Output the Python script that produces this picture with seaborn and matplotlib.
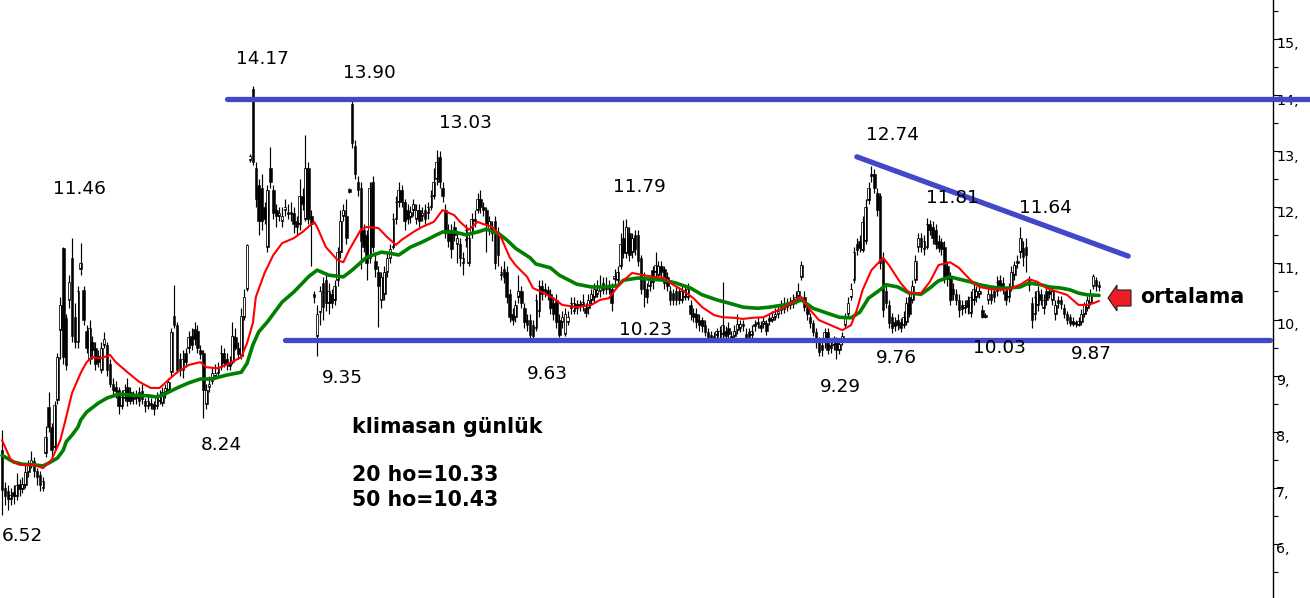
import numpy as np
import pandas as pd
import seaborn as sns
import matplotlib.pyplot as plt
import matplotlib.transforms as mtransforms
from matplotlib.patches import FancyArrow
from matplotlib.ticker import MultipleLocator, FuncFormatter

sns.set_theme(style="white")
plt.rcParams['font.family'] = ['DejaVu Sans']
plt.rcParams['text.color'] = 'black'

# ---- daily candles (klimasan)
opens = [
    7.67, 7.00, 6.95, 6.80, 6.92, 6.86, 7.07, 6.98, 7.05, 7.28,
    7.40, 7.48, 7.30, 7.22, 7.00, 7.62, 8.44, 8.08, 7.72, 8.57,
    9.81, 11.27, 10.03, 10.35, 11.10, 10.05, 9.60, 10.90, 10.52, 9.80,
    9.30, 9.60, 9.50, 9.35, 9.10, 9.55, 9.55, 9.20, 8.85, 8.80,
    8.75, 8.45, 8.60, 8.80, 8.70, 8.58, 8.60, 8.70, 8.72, 8.55,
    8.45, 8.52, 8.50, 8.45, 8.55, 8.51, 8.70, 8.74, 9.06, 10.07,
    9.90, 9.30, 9.10, 9.40, 9.50, 9.70, 9.83, 9.80, 9.46, 9.40,
    8.50, 8.80, 8.90, 9.00, 9.05, 9.15, 9.40, 9.30, 9.25, 9.25,
    9.68, 9.50, 9.35, 10.05, 10.55, 12.85, 14.10, 12.70, 12.40, 12.35,
    12.00, 11.30, 12.70, 12.30, 11.95, 11.85, 11.75, 11.95, 11.88, 11.88,
    11.90, 11.75, 11.70, 12.20, 11.80, 12.70, 11.85, 10.45, 9.70, 10.13,
    10.65, 10.70, 10.30, 10.45, 10.35, 10.70, 11.20, 11.85, 11.85, 12.28,
    13.85, 13.10, 12.45, 12.35, 11.60, 11.50, 11.10, 12.45, 11.05, 10.85,
    10.35, 10.45, 10.85, 11.10, 11.30, 11.80, 12.10, 12.30, 12.10, 11.95,
    11.82, 11.95, 11.80, 11.95, 11.85, 11.95, 11.90, 12.00, 12.20, 12.50,
    12.90, 12.35, 11.95, 11.60, 11.60, 11.65, 11.35, 11.35, 11.00, 11.42,
    11.00, 11.55, 11.75, 11.95, 12.15, 12.00, 11.95, 11.60, 11.65, 11.75,
    11.55, 10.80, 10.90, 10.85, 10.45, 10.10, 10.05, 10.40, 10.50, 10.20,
    10.00, 10.00, 9.90, 9.85, 10.15, 10.60, 10.55, 10.52, 10.45, 10.30,
    10.35, 10.00, 9.95, 9.75, 9.95, 10.20, 10.15, 10.28, 10.28, 10.25,
    10.20, 10.20, 10.35, 10.40, 10.45, 10.50, 10.65, 10.62, 10.55, 10.55,
    10.72, 10.70, 10.95, 11.45, 11.18, 11.55, 11.20, 11.50, 11.50, 11.10,
    10.75, 10.55, 10.60, 10.88, 10.85, 10.80, 10.95, 10.90, 10.75, 10.50,
    10.48, 10.50, 10.50, 10.35, 10.40, 10.40, 10.25, 10.12, 10.10, 10.00,
    10.00, 9.90, 9.78, 9.72, 9.70, 9.72, 9.65, 9.75, 9.80, 9.85,
    9.70, 9.70, 9.82, 9.85, 9.92, 9.75, 9.78, 9.72, 9.88, 9.92,
    9.90, 9.92, 9.93, 9.98, 10.00, 10.05, 10.10, 10.17, 10.18, 10.30,
    10.30, 10.28, 10.35, 10.42, 10.75, 10.40, 10.20, 10.05, 9.93, 9.78,
    9.60, 9.55, 9.60, 9.78, 9.55, 9.55, 9.60, 9.45, 9.60, 9.90,
    10.10, 10.40, 10.70, 11.35, 11.40, 11.24, 11.40, 12.13, 12.55, 12.60,
    12.25, 12.20, 11.10, 10.50, 10.25, 10.05, 9.95, 10.00, 9.95, 9.90,
    9.95, 10.40, 10.35, 10.70, 11.30, 11.45, 11.25, 11.30, 11.70, 11.65,
    11.60, 11.40, 11.38, 11.30, 10.95, 10.75, 10.55, 10.45, 10.35, 10.25,
    10.20, 10.35, 10.12, 10.35, 10.40, 10.45, 10.17, 10.08, 10.35, 10.45,
    10.50, 10.50, 10.70, 10.65, 10.50, 10.40, 10.57, 10.80, 11.00, 11.20,
    11.28, 11.30, 10.70, 10.30, 10.10, 10.25, 10.45, 10.20, 10.50, 10.50,
    10.35, 10.10, 10.35, 10.35, 10.20, 10.10, 10.05, 9.98, 9.95, 9.90,
    9.95, 10.10, 10.20, 10.30, 10.60, 10.70, 10.62,
]
closes = [
    6.96, 6.85, 6.80, 6.88, 6.85, 7.05, 6.98, 7.06, 7.28, 7.40,
    7.50, 7.30, 7.20, 7.05, 7.12, 7.90, 8.08, 7.67, 8.47, 9.33,
    10.26, 9.33, 9.19, 10.67, 9.70, 9.60, 10.50, 11.00, 10.00, 9.50,
    9.85, 9.45, 9.20, 9.25, 9.50, 9.65, 9.10, 8.85, 8.75, 8.72,
    8.45, 8.62, 8.75, 8.55, 8.55, 8.62, 8.65, 8.55, 8.58, 8.45,
    8.55, 8.48, 8.40, 8.62, 8.65, 8.71, 8.78, 8.88, 9.78, 9.90,
    9.10, 9.10, 9.30, 9.25, 9.68, 9.55, 9.65, 9.50, 9.38, 8.74,
    8.75, 8.85, 9.05, 9.05, 9.15, 9.40, 9.23, 9.20, 9.18, 9.70,
    9.50, 9.38, 10.07, 10.40, 11.32, 12.92, 12.80, 12.15, 11.75, 11.75,
    11.80, 12.30, 12.45, 11.90, 11.85, 11.90, 11.85, 12.00, 11.92, 11.92,
    11.70, 11.65, 12.20, 12.05, 12.70, 11.80, 11.70, 10.40, 10.10, 10.50,
    10.22, 10.30, 10.50, 10.30, 10.60, 11.20, 11.75, 11.95, 11.45, 12.32,
    13.15, 12.60, 12.30, 11.40, 11.30, 11.00, 12.35, 11.30, 10.90, 10.60,
    10.75, 10.85, 11.10, 11.25, 11.80, 12.10, 12.30, 12.10, 11.75, 11.80,
    11.92, 12.05, 11.95, 11.75, 11.90, 11.80, 12.00, 12.20, 12.45, 12.80,
    12.45, 12.20, 11.55, 11.40, 11.25, 11.50, 11.45, 11.10, 11.10, 11.60,
    11.45, 11.80, 11.80, 12.15, 12.00, 11.95, 11.70, 11.75, 11.55, 11.00,
    11.15, 10.85, 10.75, 10.40, 10.05, 10.00, 10.25, 10.50, 10.30, 9.95,
    9.90, 9.72, 9.70, 10.35, 10.60, 10.45, 10.50, 10.45, 10.20, 10.10,
    9.95, 9.72, 10.05, 10.10, 10.05, 10.30, 10.30, 10.20, 10.24, 10.32,
    10.12, 10.35, 10.45, 10.55, 10.52, 10.60, 10.52, 10.55, 10.58, 10.30,
    10.78, 10.85, 11.35, 11.18, 11.65, 11.15, 11.45, 11.25, 11.05, 10.55,
    10.55, 10.40, 10.70, 10.67, 10.98, 10.95, 10.85, 10.65, 10.60, 10.35,
    10.35, 10.35, 10.35, 10.50, 10.52, 10.55, 10.10, 10.05, 9.95, 9.90,
    9.88, 9.78, 9.65, 9.65, 9.65, 9.80, 9.80, 9.90, 9.70, 9.75,
    9.65, 9.80, 9.92, 9.92, 9.88, 9.65, 9.68, 9.80, 9.92, 9.95,
    9.85, 9.98, 9.80, 10.02, 10.05, 10.10, 10.15, 10.23, 10.25, 10.22,
    10.25, 10.35, 10.40, 10.50, 10.97, 10.22, 10.10, 9.93, 9.78, 9.60,
    9.42, 9.45, 9.78, 9.45, 9.50, 9.62, 9.45, 9.57, 9.70, 10.05,
    10.30, 10.55, 11.20, 11.24, 11.28, 11.74, 12.00, 12.35, 12.60, 12.35,
    11.95, 11.00, 10.17, 10.30, 9.93, 9.85, 9.88, 9.90, 9.85, 10.05,
    10.30, 10.10, 10.60, 11.05, 11.45, 11.30, 11.40, 11.70, 11.60, 11.45,
    11.35, 11.28, 11.25, 10.75, 10.72, 10.35, 10.45, 10.35, 10.17, 10.18,
    10.25, 10.22, 10.40, 10.55, 10.50, 10.50, 10.05, 10.05, 10.45, 10.35,
    10.40, 10.67, 10.60, 10.55, 10.35, 10.55, 10.85, 10.98, 11.05, 11.45,
    11.12, 11.15, 10.62, 10.00, 10.40, 10.50, 10.35, 10.35, 10.35, 10.45,
    10.50, 10.25, 10.30, 10.28, 10.10, 10.00, 9.93, 9.92, 9.92, 9.98,
    10.10, 10.25, 10.35, 10.45, 10.78, 10.60, 10.58,
]
highs = [
    8.03, 7.10, 7.05, 7.00, 7.05, 7.27, 7.15, 7.20, 7.45, 7.50,
    7.65, 7.55, 7.35, 7.30, 7.20, 8.10, 8.70, 8.15, 8.55, 9.40,
    10.40, 11.30, 10.10, 10.80, 11.46, 10.30, 10.60, 11.37, 10.60, 9.90,
    10.00, 9.70, 9.60, 9.45, 9.60, 9.78, 9.60, 9.30, 8.95, 8.90,
    8.80, 8.75, 8.85, 8.95, 8.80, 8.72, 8.75, 8.80, 8.85, 8.60,
    8.65, 8.60, 8.55, 8.70, 8.75, 8.80, 8.85, 8.95, 9.85, 10.61,
    9.95, 9.40, 9.45, 9.50, 9.80, 9.85, 9.95, 9.90, 9.55, 9.45,
    8.85, 9.00, 9.15, 9.20, 9.25, 9.55, 9.50, 9.40, 9.35, 9.95,
    9.85, 9.60, 10.20, 10.55, 11.35, 12.95, 14.17, 12.80, 12.50, 12.60,
    12.10, 12.40, 13.07, 12.40, 12.05, 12.00, 12.00, 12.15, 12.05, 12.10,
    12.00, 11.85, 12.50, 12.35, 13.29, 12.80, 11.95, 10.50, 10.25, 10.60,
    10.75, 10.85, 10.65, 10.55, 10.70, 11.30, 11.95, 12.05, 12.15, 12.35,
    13.90, 13.20, 12.55, 12.45, 11.70, 11.60, 12.45, 12.55, 11.20, 10.95,
    10.85, 10.95, 11.20, 11.35, 11.90, 12.20, 12.45, 12.40, 12.15, 12.05,
    12.02, 12.15, 12.05, 12.05, 12.00, 12.05, 12.10, 12.30, 12.70, 13.03,
    13.00, 12.45, 12.05, 11.70, 11.70, 11.75, 11.55, 11.45, 11.20, 11.70,
    11.55, 11.90, 11.95, 12.25, 12.31, 12.10, 12.00, 11.85, 11.75, 11.85,
    11.65, 10.95, 11.05, 10.95, 10.55, 10.20, 10.35, 10.80, 10.60, 10.30,
    10.10, 10.10, 10.00, 10.45, 10.70, 10.70, 10.65, 10.60, 10.55, 10.40,
    10.45, 10.10, 10.15, 10.20, 10.15, 10.40, 10.40, 10.35, 10.35, 10.45,
    10.30, 10.45, 10.55, 10.65, 10.70, 10.80, 10.75, 10.75, 10.70, 10.65,
    10.90, 10.95, 11.55, 11.78, 11.79, 11.65, 11.55, 11.60, 11.60, 11.15,
    10.85, 10.65, 10.80, 10.95, 11.20, 11.05, 11.05, 10.95, 10.85, 10.60,
    10.55, 10.60, 10.58, 10.60, 10.62, 10.65, 10.35, 10.20, 10.20, 10.10,
    10.05, 10.00, 9.85, 9.80, 9.78, 9.85, 9.88, 10.67, 9.88, 9.95,
    9.80, 9.90, 10.10, 10.00, 10.00, 9.85, 9.85, 9.90, 10.00, 10.05,
    9.98, 10.05, 10.00, 10.10, 10.15, 10.20, 10.25, 10.35, 10.40, 10.38,
    10.40, 10.45, 10.50, 10.65, 11.05, 10.50, 10.28, 10.12, 10.00, 9.85,
    9.68, 9.62, 9.85, 9.85, 9.65, 9.70, 9.68, 9.65, 9.78, 10.12,
    10.40, 10.65, 11.30, 11.45, 11.50, 11.85, 12.15, 12.45, 12.74, 12.68,
    12.35, 12.25, 11.20, 10.60, 10.35, 10.12, 10.05, 10.10, 10.02, 10.15,
    10.40, 10.50, 10.70, 11.15, 11.55, 11.55, 11.50, 11.81, 11.78, 11.75,
    11.70, 11.50, 11.45, 11.40, 11.05, 10.85, 10.65, 10.55, 10.45, 10.35,
    10.35, 10.42, 10.50, 10.65, 10.60, 10.60, 10.25, 10.12, 10.55, 10.55,
    10.58, 10.78, 10.80, 10.75, 10.58, 10.65, 10.95, 11.05, 11.15, 11.64,
    11.40, 11.45, 10.78, 10.40, 10.50, 10.60, 10.55, 10.45, 10.58, 10.60,
    10.58, 10.35, 10.42, 10.42, 10.28, 10.15, 10.10, 10.05, 10.00, 10.05,
    10.18, 10.32, 10.42, 10.55, 10.82, 10.75, 10.68,
]
lows = [
    6.52, 6.70, 6.60, 6.70, 6.72, 6.78, 6.85, 6.90, 7.00, 7.20,
    7.35, 7.20, 7.05, 6.95, 6.95, 7.55, 8.00, 7.50, 7.70, 8.50,
    9.30, 9.20, 9.10, 10.20, 9.60, 9.50, 9.50, 10.80, 9.90, 9.40,
    9.20, 9.30, 9.10, 9.15, 9.05, 9.50, 9.00, 8.80, 8.65, 8.60,
    8.32, 8.40, 8.55, 8.45, 8.50, 8.50, 8.50, 8.45, 8.50, 8.35,
    8.40, 8.40, 8.30, 8.40, 8.50, 8.45, 8.60, 8.70, 9.00, 9.85,
    9.05, 9.00, 8.95, 9.15, 9.40, 9.45, 9.55, 9.40, 9.30, 8.24,
    8.40, 8.70, 8.85, 8.95, 9.00, 9.10, 9.15, 9.10, 9.10, 9.20,
    9.45, 9.30, 9.30, 10.00, 10.50, 12.80, 12.75, 12.00, 11.50, 11.60,
    11.70, 11.20, 12.35, 11.80, 11.65, 11.75, 11.65, 11.85, 11.80, 11.75,
    11.55, 11.50, 11.60, 11.95, 11.75, 11.70, 10.96, 10.30, 9.35, 9.90,
    10.00, 10.15, 10.10, 10.20, 10.25, 10.60, 11.10, 11.75, 11.35, 12.25,
    13.05, 12.50, 12.20, 10.90, 11.20, 10.70, 11.00, 11.20, 10.75, 9.87,
    10.20, 10.35, 10.75, 11.00, 11.25, 11.70, 12.00, 12.00, 11.60, 11.70,
    11.72, 11.85, 11.70, 11.65, 11.75, 11.70, 11.80, 11.95, 12.15, 12.40,
    12.35, 12.10, 11.45, 11.30, 11.10, 11.40, 11.00, 10.95, 10.80, 11.30,
    10.95, 11.45, 11.65, 11.90, 11.90, 11.85, 11.20, 11.50, 11.40, 10.90,
    10.95, 10.70, 10.65, 10.30, 9.95, 9.90, 9.95, 10.30, 10.20, 9.85,
    9.80, 9.65, 9.63, 9.80, 10.05, 10.35, 10.40, 10.35, 10.10, 10.00,
    9.85, 9.68, 9.85, 9.70, 9.90, 10.10, 10.10, 10.10, 10.15, 10.15,
    10.05, 10.10, 10.25, 10.30, 10.40, 10.40, 10.45, 10.45, 10.45, 10.15,
    10.60, 10.65, 10.90, 11.10, 11.10, 11.05, 11.10, 11.15, 10.95, 10.45,
    10.23, 10.30, 10.50, 10.55, 10.75, 10.70, 10.75, 10.55, 10.50, 10.25,
    10.25, 10.25, 10.28, 10.30, 10.35, 10.35, 10.00, 9.95, 9.85, 9.80,
    9.78, 9.70, 9.62, 9.60, 9.60, 9.62, 9.60, 9.65, 9.62, 9.65,
    9.60, 9.62, 9.75, 9.78, 9.80, 9.60, 9.62, 9.65, 9.80, 9.85,
    9.78, 9.85, 9.72, 9.90, 9.95, 10.00, 10.02, 10.10, 10.12, 10.15,
    10.18, 10.20, 10.28, 10.35, 10.70, 10.15, 10.00, 9.85, 9.70, 9.50,
    9.35, 9.35, 9.50, 9.38, 9.40, 9.45, 9.29, 9.38, 9.55, 9.85,
    10.05, 10.35, 10.65, 11.15, 11.20, 11.20, 11.35, 12.05, 12.45, 12.25,
    11.85, 10.90, 10.05, 10.20, 9.85, 9.76, 9.80, 9.82, 9.78, 9.85,
    9.90, 10.05, 10.30, 10.65, 11.20, 11.20, 11.15, 11.25, 11.50, 11.35,
    11.25, 11.20, 11.15, 10.65, 10.60, 10.25, 10.35, 10.25, 10.05, 10.08,
    10.12, 10.10, 10.05, 10.25, 10.32, 10.38, 10.03, 10.03, 10.28, 10.28,
    10.32, 10.42, 10.50, 10.45, 10.25, 10.32, 10.50, 10.70, 10.92, 11.10,
    10.95, 10.85, 10.50, 9.85, 10.00, 10.15, 10.25, 10.10, 10.25, 10.38,
    10.25, 10.00, 10.20, 10.18, 10.02, 9.92, 9.88, 9.88, 9.87, 9.88,
    9.90, 10.05, 10.15, 10.25, 10.55, 10.50, 10.50,
]

# 20 and 50 day averages (bar number, value)
ma20_day = [0, 3, 6, 11, 14, 17, 20, 22, 24, 27, 29, 31, 34, 37, 39, 43, 47, 51, 54, 60,
            64, 68, 70, 74, 78, 82, 84, 86, 87, 90, 93, 96, 100, 103, 107, 108, 111, 115, 117, 119,
            123, 125, 129, 132, 135, 137, 141, 144, 148, 151, 155, 157, 160, 163, 165, 168, 171, 174, 176, 180,
            182, 185, 189, 192, 197, 202, 205, 208, 212, 216, 220, 223, 227, 230, 233, 237, 240, 244, 247, 251,
            254, 257, 261, 264, 268, 272, 274, 277, 280, 284, 288, 291, 293, 295, 298, 302, 304, 308, 311, 315,
            318, 321, 325, 328, 332, 335, 339, 342, 345, 349, 352, 355, 358, 362, 365, 367, 369, 372, 374, 376]
ma20_val = [7.85, 7.50, 7.41, 7.41, 7.35, 7.50, 7.85, 8.26, 8.69, 9.05, 9.24, 9.33, 9.31, 9.37, 9.24, 9.06, 8.89, 8.78, 8.78, 9.06,
            9.19, 9.24, 9.15, 9.13, 9.22, 9.33, 9.58, 9.94, 10.40, 10.83, 11.15, 11.36, 11.45, 11.56, 11.74, 11.65, 11.29, 11.06, 11.02, 11.24,
            11.60, 11.65, 11.63, 11.47, 11.33, 11.42, 11.56, 11.65, 11.74, 11.95, 11.86, 11.74, 11.60, 11.74, 11.70, 11.65, 11.47, 11.11, 10.97, 10.76,
            10.56, 10.49, 10.38, 10.26, 10.22, 10.26, 10.35, 10.38, 10.65, 10.83, 10.79, 10.76, 10.74, 10.62, 10.53, 10.38, 10.22, 10.08, 10.04, 10.03,
            10.01, 10.03, 10.04, 10.12, 10.21, 10.35, 10.40, 10.17, 9.99, 9.90, 9.81, 9.90, 10.17, 10.53, 10.88, 11.10, 10.97, 10.65, 10.47, 10.47,
            10.67, 10.97, 11.02, 10.92, 10.70, 10.58, 10.54, 10.53, 10.54, 10.62, 10.72, 10.67, 10.56, 10.49, 10.44, 10.35, 10.26, 10.26, 10.29, 10.33]
ma50_day = [0, 4, 7, 11, 14, 16, 19, 21, 22, 24, 26, 27, 29, 33, 36, 40, 45, 50, 53, 55,
            60, 64, 68, 72, 77, 82, 84, 86, 88, 91, 94, 96, 100, 103, 105, 108, 112, 117, 120, 125,
            130, 133, 136, 140, 144, 149, 151, 155, 159, 163, 166, 170, 173, 176, 181, 183, 188, 191, 197, 202,
            206, 211, 213, 218, 222, 227, 231, 236, 240, 245, 250, 254, 259, 263, 268, 272, 274, 278, 283, 287,
            291, 294, 297, 301, 303, 307, 311, 315, 318, 321, 325, 328, 332, 335, 339, 342, 345, 349, 352, 356,
            359, 363, 366, 369, 372, 376]
ma50_val = [7.58, 7.46, 7.42, 7.41, 7.39, 7.44, 7.53, 7.67, 7.82, 7.94, 8.08, 8.21, 8.35, 8.51, 8.60, 8.67, 8.65, 8.64, 8.62, 8.65,
            8.78, 8.87, 8.94, 8.94, 9.01, 9.06, 9.22, 9.55, 9.78, 9.96, 10.17, 10.31, 10.49, 10.65, 10.76, 10.88, 10.79, 10.76, 10.88, 11.11,
            11.20, 11.18, 11.15, 11.29, 11.38, 11.51, 11.56, 11.56, 11.51, 11.56, 11.61, 11.54, 11.42, 11.27, 11.10, 10.99, 10.92, 10.79, 10.63, 10.58,
            10.58, 10.60, 10.70, 10.74, 10.72, 10.70, 10.65, 10.56, 10.44, 10.35, 10.28, 10.22, 10.20, 10.22, 10.26, 10.31, 10.35, 10.20, 10.11, 10.04,
            10.03, 10.13, 10.38, 10.53, 10.62, 10.58, 10.47, 10.45, 10.56, 10.69, 10.76, 10.72, 10.67, 10.62, 10.58, 10.56, 10.56, 10.58, 10.65, 10.62,
            10.58, 10.56, 10.53, 10.47, 10.44, 10.43]

# drawn levels
resistance = 13.93
support = 9.635
trend_days = [293, 386]
trend_vals = [12.90, 11.13]

# extreme labels: text, bar, value
peak_labels = [
    ("14.17", 89.1, 14.65), ("13.90", 125.8, 14.40), ("13.03", 158.7, 13.51),
    ("11.46", 26.7, 12.32), ("11.79", 218.6, 12.37), ("12.74", 305.3, 13.28),
    ("11.81", 325.6, 12.17), ("11.64", 357.8, 11.98), ("10.23", 220.7, 9.82),
    ("9.35", 116.5, 8.96), ("9.63", 187.1, 9.02), ("9.29", 287.2, 8.79),
    ("9.76", 306.7, 9.32), ("10.03", 342.0, 9.50), ("9.87", 373.5, 9.39),
    ("8.24", 75.1, 7.76), ("6.52", 6.9, 6.15),
]

df = pd.DataFrame({"open": opens, "high": highs, "low": lows, "close": closes})
assert len(opens) == len(closes) == len(highs) == len(lows)
df["day"] = np.arange(len(df))
up = df[df.close >= df.open]
dn = df[df.close < df.open]

W, H = 1310, 598
fig = plt.figure(figsize=(W / 100, H / 100), dpi=100)
ax = fig.add_axes([0, 0, 1273 / W, 1])
n = len(df)
step = 1097 / (n - 1)          # pixels per bar
px_y = 1 / 56.1                # one pixel in price units
ax.set_xlim(-2 / step, 1271 / step)
ax.set_ylim(5.036, 15.695)

# candles: wick, filled body for falling days, hollow body for rising days
ax.vlines(df.day, df.low, df.high, color="black", lw=0.85, zorder=1)
ax.bar(dn.day, (dn.open - dn.close).clip(lower=0.03), bottom=dn.close,
       width=0.9, color="black", edgecolor="black", lw=0.4, zorder=2)
ax.bar(up.day, (up.close - up.open).clip(lower=0.03), bottom=up.open,
       width=0.9, color="black", edgecolor="black", lw=0.4, zorder=2)
hollow = up[(up.close - up.open) > 2.5 * px_y]
ax.bar(hollow.day, hollow.close - hollow.open - 2 * px_y, bottom=hollow.open + px_y,
       width=0.36, color="white", lw=0, zorder=2.5)

# moving averages
sns.lineplot(x=ma50_day, y=ma50_val, color="#008000", lw=2.6, ax=ax,
             estimator=None, sort=False, zorder=3)
sns.lineplot(x=ma20_day, y=ma20_val, color="#ff0000", lw=1.5, ax=ax,
             estimator=None, sort=False, zorder=4)

# support / resistance / trend
blue = "#4248c8"
ax.plot([(227 - 2) / step, (1312 - 2) / step], [resistance, resistance], color=blue,
        lw=3.8, solid_capstyle="round", clip_on=False, zorder=6)
ax.plot([(285 - 2) / step, (1270 - 2) / step], [support, support], color=blue,
        lw=3.8, solid_capstyle="round", zorder=6)
ax.plot(trend_days, trend_vals, color=blue, lw=3.8, solid_capstyle="round", zorder=6)

for txt, x, y in peak_labels:
    ax.text(x, y, txt, fontsize=13.3, ha="center", va="center", color="black", zorder=7)

for txt, ypx in [("klimasan günlük", 427), (f"20 ho={ma20_val[-1]:.2f}", 475),
                 (f"50 ho={ma50_val[-1]:.2f}", 500)]:
    ax.text(352 / 1273, 1 - ypx / H, txt, transform=ax.transAxes, color="black",
            fontsize=14.8, fontweight="bold", va="center", ha="left")
ax.text(1140 / 1273, 1 - 297 / H, "ortalama", transform=ax.transAxes, color="black",
        fontsize=14.8, fontweight="bold", va="center", ha="left")

# red arrow pointing at the averages
ay = 15.695 - 298 / 56.1
ax.add_patch(FancyArrow((1131 - 2) / step, ay, -(23 / step), 0, width=16 / 56.1,
                        head_width=26 / 56.1, head_length=9 / step,
                        length_includes_head=True, facecolor="#ee1c25",
                        edgecolor="#222222", lw=0.8, clip_on=False, zorder=7))

# right price axis
for s in ["left", "top", "bottom"]:
    ax.spines[s].set_visible(False)
ax.spines["right"].set_color("black")
ax.spines["right"].set_linewidth(1.0)
ax.set_xticks([])
ax.yaxis.tick_right()
ax.yaxis.set_major_locator(MultipleLocator(1))
ax.yaxis.set_minor_locator(MultipleLocator(0.5))
ax.yaxis.set_major_formatter(FuncFormatter(lambda v, p: f"{int(round(v))},"))
ax.tick_params(axis="y", which="major", direction="out", length=5.8, width=0.8,
               colors="black", labelsize=10.3, pad=-3.4, right=True, left=False)
ax.tick_params(axis="y", which="minor", direction="out", length=3.6, width=0.8,
               colors="black", right=True, left=False)
ax.set_ylabel("")
ax.set_xlabel("")

fig.canvas.draw()
shift = mtransforms.ScaledTranslation(0, -4 / 100, fig.dpi_scale_trans)
for lbl in ax.get_yticklabels():
    lbl.set_transform(lbl.get_transform() + shift)

fig.savefig("out.png", dpi=100)
